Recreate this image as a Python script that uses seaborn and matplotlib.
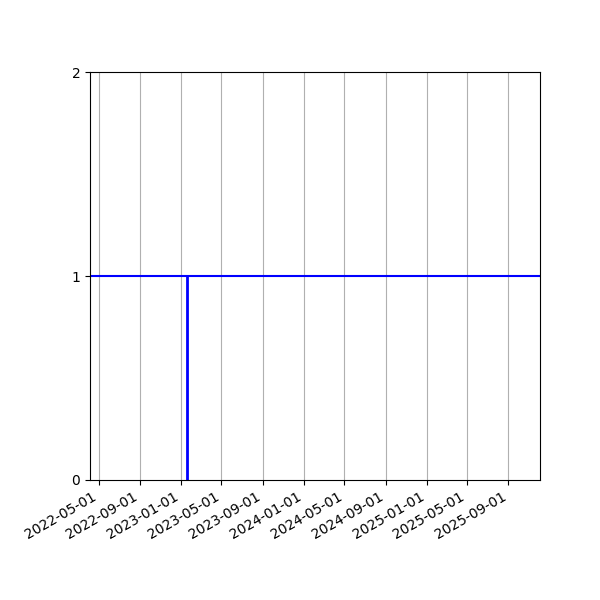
"""
plot.py
Flat level line over a date range with a single event marker.
"""

import matplotlib
matplotlib.use("Agg")
import matplotlib.pyplot as plt
import matplotlib.dates as mdates
import pandas as pd
import seaborn as sns

# level series (start / end of the observed window)
level_dates = ["2022-04-05", "2025-12-04"]
level_values = [1, 1]

# single event
event_dates = ["2023-01-20"]
event_values = [1]

y_ticks = [0, 1, 2]


def main():
    level = pd.DataFrame({"date": pd.to_datetime(level_dates), "value": level_values})
    events = pd.DataFrame({"date": pd.to_datetime(event_dates), "value": event_values})

    fig, ax = plt.subplots(figsize=(6, 6), dpi=100)
    fig.subplots_adjust(left=0.15, right=0.9, top=0.88, bottom=0.2)

    sns.lineplot(data=level, x="date", y="value", color="blue", linewidth=1.5, ax=ax)
    ax.vlines(events["date"], 0, events["value"], color="blue", linewidth=2)

    ax.set_xlim(level["date"].iloc[0], level["date"].iloc[-1])
    ax.set_ylim(0, 2)
    ax.set_yticks(y_ticks)
    ax.xaxis.set_major_locator(mdates.MonthLocator(bymonth=[1, 5, 9]))
    ax.xaxis.set_major_formatter(mdates.DateFormatter("%Y-%m-%d"))
    ax.grid(axis="x", color="#b0b0b0", linewidth=0.8)
    ax.set_xlabel("")
    ax.set_ylabel("")
    plt.setp(ax.get_xticklabels(), rotation=30, ha="right")

    fig.savefig("out.png", dpi=100)
    plt.close(fig)


if __name__ == "__main__":
    main()
